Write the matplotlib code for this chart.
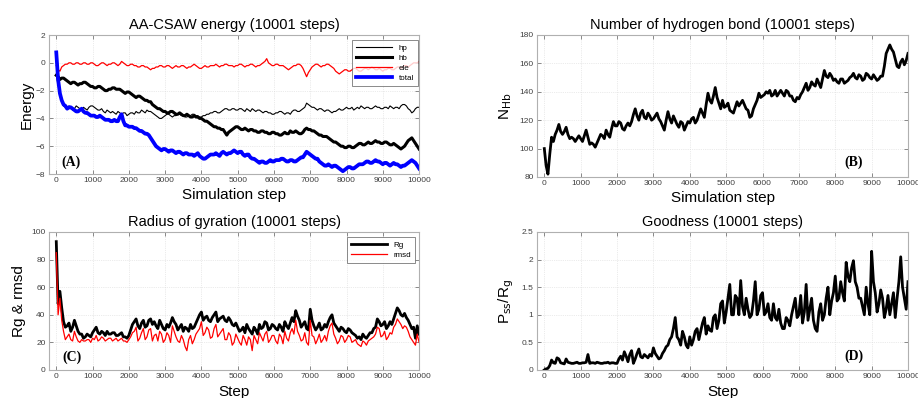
import numpy as np
import matplotlib
matplotlib.use("Agg")
import matplotlib.pyplot as plt

plt.rcParams['font.family'] = ['Liberation Sans', 'DejaVu Sans']

# ---------------- data ----------------
steps = list(range(0, 10001, 100))       # values read at every 100 steps
mid_steps = list(range(50, 10000, 100))  # values read between them

hp = [-0.9, -2.2, -3.1, -3.3, -3.2, -3.3, -3.2, -3.4, -3.3, -3.2,
      -3.1, -3.3, -3.4, -3.5, -3.4, -3.6, -3.6, -3.5, -3.7, -3.6,
      -3.7, -3.6, -3.5, -3.6, -3.5, -3.4, -3.5, -3.7, -3.9, -4.0,
      -3.8, -3.7, -3.9, -3.8, -3.7, -3.8, -3.9, -3.8, -3.7, -3.8,
      -3.9, -3.8, -3.7, -3.6, -3.5, -3.6, -3.4, -3.3, -3.4, -3.3,
      -3.4, -3.3, -3.5, -3.4, -3.3, -3.5, -3.4, -3.6, -3.5, -3.6,
      -3.7, -3.6, -3.5, -3.7, -3.6, -3.5, -3.4, -3.5, -3.3, -2.9,
      -3.1, -3.2, -3.4, -3.3, -3.5, -3.4, -3.6, -3.5, -3.3, -3.4,
      -3.2, -3.3, -3.4, -3.2, -3.1, -3.3, -3.2, -3.3, -3.1, -3.2,
      -3.3, -3.2, -3.1, -3.3, -3.2, -3.1, -3.0, -3.3, -3.6, -3.3,
      -3.2]
hp_mid = [-1.6, -2.8, -3.2, -3.1, -3.4, -3.1, -3.3, -3.2, -3.4, -3.1,
          -3.2, -3.4, -3.3, -3.6, -3.5, -3.5, -3.7, -3.6, -3.6, -3.8,
          -3.6, -3.7, -3.6, -3.4, -3.6, -3.5, -3.6, -3.8, -4.0, -3.9,
          -3.7, -3.8, -3.8, -3.7, -3.8, -3.9, -3.8, -3.7, -3.8, -3.9,
          -3.8, -3.7, -3.6, -3.5, -3.6, -3.5, -3.3, -3.4, -3.3, -3.4,
          -3.3, -3.4, -3.3, -3.5, -3.4, -3.4, -3.5, -3.5, -3.6, -3.7,
          -3.6, -3.5, -3.6, -3.6, -3.7, -3.4, -3.5, -3.4, -3.2, -3.0,
          -3.2, -3.3, -3.3, -3.4, -3.4, -3.5, -3.5, -3.4, -3.4, -3.3,
          -3.3, -3.2, -3.3, -3.3, -3.2, -3.2, -3.3, -3.2, -3.2, -3.3,
          -3.2, -3.3, -3.2, -3.2, -3.3, -3.0, -3.1, -3.4, -3.5, -3.2]

hb = [-0.9, -1.2, -1.1, -1.3, -1.5, -1.4, -1.6, -1.5, -1.4, -1.6,
      -1.7, -1.8, -1.7, -1.9, -2.0, -1.9, -1.8, -1.9, -2.0, -2.2,
      -2.1, -2.3, -2.5, -2.4, -2.6, -2.7, -2.8, -3.1, -3.3, -3.4,
      -3.5, -3.6, -3.5, -3.7, -3.6, -3.8, -3.7, -3.9, -3.8, -3.9,
      -4.0, -4.2, -4.3, -4.5, -4.6, -4.7, -4.8, -5.2, -4.9, -4.7,
      -4.6, -4.8, -4.7, -4.9, -4.8, -4.9, -5.0, -4.9, -5.0, -5.1,
      -5.0, -5.1, -5.2, -5.0, -5.1, -5.0, -4.9, -5.1, -5.0, -4.7,
      -4.8, -4.9, -5.1, -5.2, -5.3, -5.4, -5.6, -5.7, -5.9, -6.0,
      -6.1, -6.0, -6.1, -5.9, -5.8, -5.9, -5.7, -5.8, -5.6, -5.7,
      -5.8, -5.7, -5.9, -5.8, -6.0, -6.2, -6.0, -5.6, -5.4, -5.8,
      -6.2]
hb_mid = [-1.0, -1.1, -1.2, -1.4, -1.4, -1.5, -1.5, -1.4, -1.5, -1.7,
          -1.8, -1.7, -1.8, -2.0, -1.9, -1.8, -1.9, -1.9, -2.1, -2.1,
          -2.2, -2.4, -2.4, -2.5, -2.7, -2.8, -3.0, -3.2, -3.3, -3.5,
          -3.6, -3.5, -3.6, -3.7, -3.7, -3.8, -3.8, -3.9, -3.9, -4.0,
          -4.1, -4.2, -4.4, -4.6, -4.7, -4.8, -5.0, -5.0, -4.8, -4.6,
          -4.7, -4.8, -4.8, -4.8, -4.9, -5.0, -4.9, -5.0, -5.1, -5.0,
          -5.1, -5.2, -5.1, -5.1, -4.9, -5.0, -5.0, -5.1, -4.8, -4.8,
          -4.9, -5.0, -5.2, -5.3, -5.3, -5.5, -5.7, -5.8, -6.0, -6.1,
          -6.0, -6.1, -6.0, -5.8, -5.9, -5.8, -5.8, -5.7, -5.7, -5.8,
          -5.7, -5.8, -5.9, -5.9, -6.1, -6.1, -5.8, -5.5, -5.6, -6.0]

ele = [-0.2, -0.6, -0.2, -0.1, 0.0, -0.1, 0.0, -0.1, 0.0, -0.1,
       0.0, -0.2, -0.1, 0.0, -0.2, -0.1, 0.0, -0.2, 0.1, -0.1,
       -0.2, -0.1, -0.2, -0.3, -0.2, -0.3, -0.5, -0.4, -0.3, -0.2,
       -0.3, -0.2, -0.4, -0.2, -0.3, -0.2, -0.4, -0.3, -0.1, -0.3,
       -0.4, -0.2, -0.3, -0.2, -0.1, -0.3, -0.2, -0.1, -0.2, -0.3,
       -0.2, -0.1, -0.3, -0.2, -0.1, -0.3, -0.2, 0.0, 0.3, -0.1,
       -0.2, -0.1, -0.2, -0.3, -0.5, -0.3, -0.2, -0.1, -0.4, -1.0,
       -0.5, -0.2, -0.1, -0.3, -0.2, -0.1, -0.3, -0.6, -0.8, -0.6,
       -0.5, -0.6, -0.4, -0.5, -0.6, -0.4, -0.5, -0.3, -0.5, -0.4,
       -0.6, -0.5, -0.4, -0.5, -0.3, -0.4, -0.2, -0.3, -0.1, 0.0,
       0.1]
ele_mid = [-0.5, -0.3, -0.1, 0.0, -0.1, 0.0, -0.1, 0.0, -0.1, 0.0,
           -0.1, -0.2, 0.0, -0.1, -0.1, 0.0, -0.1, -0.1, 0.0, -0.2,
           -0.1, -0.2, -0.3, -0.2, -0.3, -0.4, -0.4, -0.3, -0.2, -0.3,
           -0.2, -0.3, -0.3, -0.3, -0.2, -0.3, -0.3, -0.2, -0.2, -0.4,
           -0.3, -0.3, -0.2, -0.2, -0.2, -0.2, -0.1, -0.2, -0.2, -0.2,
           -0.1, -0.2, -0.2, -0.1, -0.2, -0.2, -0.1, 0.1, 0.0, -0.2,
           -0.1, -0.2, -0.2, -0.4, -0.4, -0.2, -0.1, -0.2, -0.7, -0.7,
           -0.3, -0.1, -0.2, -0.2, -0.1, -0.2, -0.4, -0.7, -0.7, -0.5,
           -0.6, -0.5, -0.4, -0.6, -0.5, -0.4, -0.4, -0.4, -0.5, -0.5,
           -0.5, -0.4, -0.5, -0.4, -0.3, -0.3, -0.2, -0.2, 0.0, 0.0]

total = [0.75, -2.2, -3.0, -3.3, -3.2, -3.4, -3.5, -3.3, -3.6, -3.7,
         -3.8, -3.9, -3.8, -4.0, -4.1, -4.2, -4.1, -4.2, -3.7, -4.5,
         -4.6, -4.6, -4.7, -4.9, -5.0, -5.1, -5.4, -5.8, -6.1, -6.3,
         -6.2, -6.4, -6.3, -6.5, -6.4, -6.6, -6.5, -6.6, -6.7, -6.5,
         -6.8, -6.9, -6.7, -6.6, -6.5, -6.7, -6.4, -6.6, -6.5, -6.3,
         -6.5, -6.4, -6.7, -6.6, -6.9, -7.0, -7.2, -7.1, -7.2, -7.0,
         -7.1, -7.0, -6.9, -7.0, -7.1, -7.0, -7.1, -6.9, -6.8, -6.4,
         -6.6, -6.8, -6.9, -7.2, -7.4, -7.3, -7.5, -7.4, -7.6, -7.8,
         -7.6, -7.5, -7.6, -7.4, -7.3, -7.2, -7.1, -7.2, -7.0, -7.1,
         -7.3, -7.2, -7.4, -7.2, -7.3, -7.5, -7.4, -7.2, -7.0, -7.2,
         -7.6]
total_mid = [-1.2, -2.7, -3.1, -3.2, -3.3, -3.5, -3.4, -3.5, -3.6, -3.8,
             -3.8, -3.9, -3.9, -4.1, -4.1, -4.2, -4.2, -3.9, -4.2, -4.5,
             -4.6, -4.7, -4.8, -4.9, -5.1, -5.2, -5.6, -6.0, -6.2, -6.2,
             -6.3, -6.3, -6.4, -6.4, -6.5, -6.5, -6.6, -6.6, -6.6, -6.7,
             -6.9, -6.8, -6.6, -6.6, -6.6, -6.5, -6.5, -6.5, -6.4, -6.4,
             -6.4, -6.6, -6.6, -6.8, -6.9, -7.1, -7.1, -7.2, -7.1, -7.1,
             -7.0, -7.0, -6.9, -7.1, -7.0, -7.1, -7.0, -6.8, -6.6, -6.5,
             -6.7, -6.9, -7.1, -7.3, -7.4, -7.4, -7.4, -7.5, -7.7, -7.7,
             -7.5, -7.6, -7.5, -7.3, -7.3, -7.1, -7.2, -7.1, -7.1, -7.2,
             -7.2, -7.3, -7.3, -7.3, -7.4, -7.4, -7.3, -7.1, -7.1, -7.4]

n_hb = [100, 82, 108, 110, 117, 110, 115, 107, 107, 107,
        107, 109, 108, 104, 101, 107, 109, 113, 108, 119,
        116, 118, 113, 118, 119, 128, 120, 127, 121, 123,
        121, 125, 119, 113, 126, 118, 120, 115, 118, 116,
        118, 122, 120, 128, 122, 139, 132, 143, 132, 134,
        130, 127, 125, 133, 132, 131, 127, 123, 131, 139,
        137, 140, 141, 138, 137, 141, 137, 140, 137, 133,
        135, 140, 146, 143, 145, 149, 143, 155, 150, 151,
        149, 146, 149, 147, 150, 153, 149, 151, 149, 152,
        149, 150, 149, 151, 167, 173, 168, 158, 161, 159,
        167]
n_hb_mid = [88, 96, 105, 113, 112, 112, 110, 108, 105, 109,
            105, 113, 103, 103, 104, 110, 107, 110, 114, 116,
            119, 114, 116, 116, 124, 123, 125, 122, 125, 120,
            123, 121, 116, 120, 121, 123, 117, 119, 113, 119,
            121, 118, 124, 125, 131, 134, 137, 136, 128, 129,
            132, 126, 129, 130, 134, 128, 122, 128, 134, 136,
            138, 139, 137, 141, 139, 139, 141, 137, 134, 136,
            138, 143, 141, 147, 144, 146, 149, 151, 153, 148,
            147, 149, 146, 148, 151, 150, 152, 148, 153, 150,
            152, 148, 151, 158, 170, 170, 163, 157, 163, 162]

rg = [93, 57, 35, 32, 28, 36, 28, 26, 24, 25,
      27, 31, 26, 27, 28, 26, 27, 25, 27, 24,
      25, 33, 37, 30, 36, 32, 37, 35, 30, 33,
      29, 31, 38, 33, 31, 28, 30, 33, 31, 37,
      42, 38, 36, 38, 42, 37, 39, 35, 36, 32,
      31, 29, 27, 30, 26, 29, 33, 31, 34, 30,
      32, 29, 31, 35, 30, 38, 43, 36, 33, 30,
      44, 32, 31, 29, 33, 35, 40, 32, 28, 30,
      27, 29, 26, 23, 22, 24, 25, 27, 31, 35,
      33, 30, 35, 37, 45, 40, 41, 36, 30, 23,
      26]
rg_mid = [48, 45, 31, 34, 31, 32, 26, 23, 26, 24,
          29, 27, 28, 25, 26, 27, 25, 26, 24, 23,
          29, 35, 32, 34, 31, 36, 33, 32, 36, 30,
          33, 34, 35, 29, 33, 31, 28, 30, 34, 40,
          36, 39, 35, 40, 35, 38, 36, 38, 33, 34,
          28, 31, 33, 28, 31, 26, 30, 35, 29, 33,
          30, 33, 28, 32, 34, 35, 39, 31, 35, 29,
          36, 29, 34, 30, 31, 38, 34, 30, 31, 28,
          30, 27, 25, 24, 26, 23, 27, 30, 37, 32,
          35, 32, 33, 41, 43, 39, 38, 33, 31, 32]

rmsd = [85, 52, 28, 24, 22, 28, 21, 22, 21, 22,
        23, 25, 22, 23, 22, 23, 22, 21, 23, 21,
        22, 27, 31, 23, 30, 24, 30, 25, 21, 26,
        22, 25, 32, 24, 20, 22, 14, 25, 22, 28,
        35, 27, 29, 24, 33, 26, 30, 22, 25, 20,
        23, 18, 22, 24, 14, 22, 27, 21, 28, 22,
        25, 19, 24, 28, 21, 30, 36, 25, 22, 20,
        36, 24, 22, 20, 25, 28, 34, 23, 21, 24,
        22, 24, 21, 19, 17, 20, 21, 23, 26, 30,
        25, 22, 27, 31, 37, 33, 32, 28, 22, 18,
        20]
rmsd_mid = [40, 36, 22, 26, 21, 24, 20, 21, 22, 20,
            22, 21, 24, 21, 23, 21, 23, 22, 21, 20,
            24, 28, 21, 27, 22, 29, 21, 26, 28, 20,
            27, 20, 28, 21, 25, 17, 22, 19, 26, 30,
            25, 31, 23, 30, 24, 28, 22, 27, 18, 26,
            20, 25, 18, 22, 25, 19, 24, 26, 20, 25,
            21, 26, 19, 23, 27, 26, 28, 21, 27, 18,
            25, 19, 26, 22, 21, 32, 26, 19, 25, 20,
            25, 20, 22, 18, 21, 18, 22, 24, 31, 24,
            28, 24, 26, 33, 35, 30, 31, 24, 20, 26]

goodness = [0.0, 0.03, 0.18, 0.12, 0.2, 0.12, 0.2, 0.13, 0.12, 0.14,
            0.12, 0.13, 0.28, 0.13, 0.12, 0.13, 0.12, 0.13, 0.12, 0.13,
            0.12, 0.25, 0.33, 0.15, 0.35, 0.2, 0.38, 0.22, 0.25, 0.28,
            0.4, 0.25, 0.22, 0.35, 0.45, 0.6, 0.95, 0.55, 0.7, 0.45,
            0.6, 0.55, 0.75, 0.7, 0.95, 0.8, 0.7, 1.0, 0.9, 1.25,
            1.05, 1.55, 1.0, 1.3, 1.62, 1.0, 1.1, 1.0, 1.6, 1.1,
            1.4, 1.05, 0.95, 1.2, 0.9, 0.85, 0.75, 0.9, 1.0, 1.3,
            1.0, 0.85, 1.55, 1.1, 0.9, 0.7, 1.2, 1.0, 1.5, 1.25,
            1.7, 1.3, 1.4, 1.95, 1.6, 1.98, 1.5, 1.3, 1.0, 1.2,
            2.15, 1.4, 1.2, 1.3, 1.1, 1.0, 1.4, 1.3, 2.05, 1.3,
            1.6]
goodness_mid = [0.02, 0.08, 0.13, 0.22, 0.13, 0.11, 0.14, 0.12, 0.13, 0.12,
                0.13, 0.14, 0.12, 0.13, 0.14, 0.12, 0.13, 0.14, 0.13, 0.12,
                0.2, 0.18, 0.25, 0.28, 0.12, 0.3, 0.24, 0.28, 0.22, 0.25,
                0.3, 0.2, 0.3, 0.42, 0.55, 0.75, 0.6, 0.45, 0.6, 0.4,
                0.45, 0.7, 0.55, 0.85, 0.65, 0.72, 0.95, 0.75, 1.2, 0.85,
                1.3, 1.0, 1.35, 1.0, 1.15, 1.3, 0.95, 1.25, 1.0, 1.35,
                1.0, 1.2, 0.9, 0.95, 1.1, 0.75, 0.95, 0.8, 1.15, 0.95,
                1.35, 1.05, 0.9, 1.3, 0.75, 1.05, 0.9, 1.3, 1.0, 1.4,
                1.25, 1.6, 1.25, 1.7, 1.85, 1.6, 1.3, 1.15, 1.5, 1.0,
                1.6, 1.05, 1.45, 0.95, 1.35, 1.2, 0.95, 1.6, 1.5, 1.1]

xticks = list(range(0, 10001, 1000))


def merge(main, mid):
    out = np.empty(len(main) + len(mid))
    out[0::2] = main
    out[1::2] = mid
    return out


x_all = merge(steps, mid_steps)

# ---------------- figure ----------------
fig = plt.figure(figsize=(9.18, 3.98), dpi=100)

posA = [0.0534, 0.5628, 0.4031, 0.3492]
posB = [0.585, 0.5553, 0.4041, 0.3568]
posC = [0.0534, 0.0704, 0.4031, 0.3467]
posD = [0.585, 0.0704, 0.4041, 0.3467]

spine_c = '#b0b0b0'
tick_c = '#404040'


def style(ax, yticks, ylim):
    ax.set_xlim(-200, 10000)
    ax.set_ylim(*ylim)
    ax.set_xticks(xticks)
    ax.set_yticks(yticks)
    ax.tick_params(direction='in', top=True, right=True, length=3,
                   width=0.6, color='#777777', labelsize=6,
                   labelcolor=tick_c, pad=2.5)
    for s in ax.spines.values():
        s.set_color(spine_c)
        s.set_linewidth(0.8)
    ax.grid(True, linestyle=':', color='#d8d8d8', linewidth=0.5)
    ax.set_axisbelow(True)


def style_legend(leg):
    leg.get_frame().set_edgecolor('#555555')
    leg.get_frame().set_linewidth(0.6)


label_kw = dict(fontsize=10, fontweight='bold', family='Liberation Serif',
                ha='center', va='center')
leg_kw = dict(loc='upper right', fontsize=5.8, frameon=True, fancybox=False,
              handlelength=4.5, borderpad=0.5, labelspacing=0.3,
              borderaxespad=0)

# (A)
axA = fig.add_axes(posA)
axA.plot(x_all, merge(hp, hp_mid), color='black', lw=0.8, label='hp')
axA.plot(x_all, merge(hb, hb_mid), color='black', lw=2.2, label='hb')
axA.plot(x_all, merge(ele, ele_mid), color='red', lw=0.9, label='ele')
axA.plot(x_all, merge(total, total_mid), color='blue', lw=2.7, label='total')
style(axA, [-8, -6, -4, -2, 0, 2], (-8, 2))
axA.set_title('AA-CSAW energy (10001 steps)', fontsize=10.5, pad=4)
axA.set_xlabel('Simulation step', fontsize=11, labelpad=2.5)
axA.set_ylabel('Energy', fontsize=11, labelpad=2)
legA = axA.legend(bbox_to_anchor=(0.997, 0.964), **leg_kw)
style_legend(legA)
axA.text(0.06, 0.086, '(A)', transform=axA.transAxes, **label_kw)

# (B)
axB = fig.add_axes(posB)
axB.plot(x_all, merge(n_hb, n_hb_mid), color='black', lw=2.0)
style(axB, [80, 100, 120, 140, 160, 180], (80, 180))
axB.set_title('Number of hydrogen bond (10001 steps)', fontsize=10.5, pad=4)
axB.set_xlabel('Simulation step', fontsize=11, labelpad=2.5)
axB.set_ylabel(r'N$_{\mathrm{Hb}}$', fontsize=11, labelpad=4)
axB.text(0.854, 0.105, '(B)', transform=axB.transAxes, **label_kw)

# (C)
axC = fig.add_axes(posC)
axC.plot(x_all, merge(rg, rg_mid), color='black', lw=2.0, label='Rg')
axC.plot(x_all, merge(rmsd, rmsd_mid), color='red', lw=0.9, label='rmsd')
style(axC, [0, 20, 40, 60, 80, 100], (0, 100))
axC.set_title('Radius of gyration (10001 steps)', fontsize=10.5, pad=4)
axC.set_xlabel('Step', fontsize=11, labelpad=3)
axC.set_ylabel('Rg & rmsd', fontsize=11, labelpad=4)
legC = axC.legend(bbox_to_anchor=(0.989, 0.964), **leg_kw)
style_legend(legC)
axC.text(0.062, 0.094, '(C)', transform=axC.transAxes, **label_kw)

# (D)
axD = fig.add_axes(posD)
axD.plot(x_all, merge(goodness, goodness_mid), color='black', lw=2.0)
style(axD, [0, 0.5, 1, 1.5, 2, 2.5], (0, 2.5))
axD.set_yticklabels(['0', '0.5', '1', '1.5', '2', '2.5'])
axD.set_title('Goodness (10001 steps)', fontsize=10.5, pad=4)
axD.set_xlabel('Step', fontsize=11, labelpad=3)
axD.set_ylabel(r'P$_{\mathrm{ss}}$/R$_{\mathrm{g}}$', fontsize=11, labelpad=4)
axD.text(0.853, 0.10, '(D)', transform=axD.transAxes, **label_kw)

fig.savefig('out.png', dpi=100)
